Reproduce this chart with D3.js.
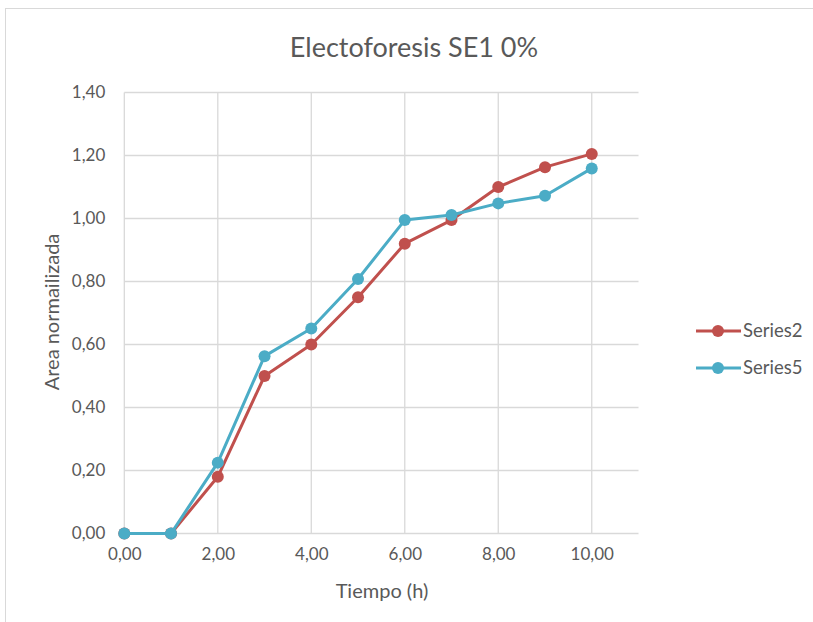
<!DOCTYPE html>
<html>
<head>
<meta charset="utf-8">
<script src="https://cdn.jsdelivr.net/npm/d3@7"></script>
<style>
  body { margin: 0; background: #fff; }
  svg { display: block; font-family: Lato, "Open Sans", sans-serif; }
</style>
</head>
<body>
<svg width="813" height="622"></svg>
<script>
var hours = [0, 1, 2, 3, 4, 5, 6, 7, 8, 9, 10];
var series2 = [0, 0, 0.18, 0.50, 0.60, 0.75, 0.92, 0.995, 1.10, 1.163, 1.205];
var series5 = [0, 0, 0.225, 0.563, 0.651, 0.808, 0.995, 1.011, 1.048, 1.072, 1.159];
var xTicks = [0, 2, 4, 6, 8, 10];
var yTicks = [0, 0.2, 0.4, 0.6, 0.8, 1.0, 1.2, 1.4];

var series = [
    { name: "Series2", values: series2, color: "#C0504D" },
    { name: "Series5", values: series5, color: "#4BACC6" }
];

var svg = d3.select("svg");
var fmt = function (d) { return d3.format(".2f")(d).replace(".", ","); };

// chart border
svg.append("rect")
    .attr("x", 5.5).attr("y", 8.5)
    .attr("width", 820).attr("height", 630)
    .attr("fill", "none").attr("stroke", "#d9d9d9");

var x = d3.scaleLinear().domain([0, 11]).range([124.3, 638.5]);
var y = d3.scaleLinear().domain([0, 1.4]).range([533.5, 92.5]);

// grid
svg.append("g")
    .selectAll("line")
    .data(yTicks)
    .enter().append("line")
    .attr("x1", x(0)).attr("x2", x(11))
    .attr("y1", function (d) { return y(d); })
    .attr("y2", function (d) { return y(d); })
    .attr("stroke", "#d9d9d9").attr("stroke-width", 1.3);

svg.append("g")
    .selectAll("line")
    .data(xTicks)
    .enter().append("line")
    .attr("x1", function (d) { return x(d); })
    .attr("x2", function (d) { return x(d); })
    .attr("y1", y(0)).attr("y2", y(1.4))
    .attr("stroke", "#d9d9d9").attr("stroke-width", 1.3);

// axes (labels only)
var yAxis = svg.append("g")
    .attr("transform", "translate(" + x(0) + ",0)")
    .call(d3.axisLeft(y).tickValues(yTicks).tickFormat(fmt).tickSize(0).tickPadding(19));
var xAxis = svg.append("g")
    .attr("transform", "translate(0," + y(0) + ")")
    .call(d3.axisBottom(x).tickValues(xTicks).tickFormat(fmt).tickSize(0).tickPadding(14));

[xAxis, yAxis].forEach(function (a) {
    a.select(".domain").remove();
    a.selectAll("text")
        .attr("fill", "#595959")
        .style("font-size", "17px")
        .style("font-family", "Lato, sans-serif");
});

// lines and markers
var line = d3.line()
    .x(function (d, i) { return x(hours[i]); })
    .y(function (d) { return y(d); });

series.forEach(function (s) {
    svg.append("path")
        .datum(s.values)
        .attr("d", line)
        .attr("fill", "none")
        .attr("stroke", s.color)
        .attr("stroke-width", 3)
        .attr("stroke-linejoin", "round");

    svg.append("g")
        .selectAll("circle")
        .data(s.values)
        .enter().append("circle")
        .attr("cx", function (d, i) { return x(hours[i]); })
        .attr("cy", function (d) { return y(d); })
        .attr("r", 6)
        .attr("fill", s.color);
});

// title
svg.append("text")
    .attr("x", 414).attr("y", 57)
    .attr("text-anchor", "middle")
    .attr("fill", "#595959")
    .style("font-size", "27px")
    .text("Electoforesis SE1 0%");

// axis titles
svg.append("text")
    .attr("x", 382).attr("y", 598)
    .attr("text-anchor", "middle")
    .attr("fill", "#595959")
    .style("font-size", "20px")
    .text("Tiempo (h)");

svg.append("text")
    .attr("transform", "translate(59,312) rotate(-90)")
    .attr("text-anchor", "middle")
    .attr("fill", "#595959")
    .style("font-size", "20px")
    .text("Area normailizada");

// legend
var legend = svg.append("g")
    .selectAll("g")
    .data(series)
    .enter().append("g")
    .attr("transform", function (d, i) { return "translate(696," + (331 + i * 37) + ")"; });

legend.append("line")
    .attr("x1", 0).attr("x2", 45)
    .attr("stroke", function (d) { return d.color; })
    .attr("stroke-width", 3);
legend.append("circle")
    .attr("cx", 22).attr("r", 6)
    .attr("fill", function (d) { return d.color; });
legend.append("text")
    .attr("x", 47).attr("dy", "0.35em")
    .attr("fill", "#595959")
    .style("font-size", "18.5px")
    .text(function (d) { return d.name; });
</script>
</body>
</html>
